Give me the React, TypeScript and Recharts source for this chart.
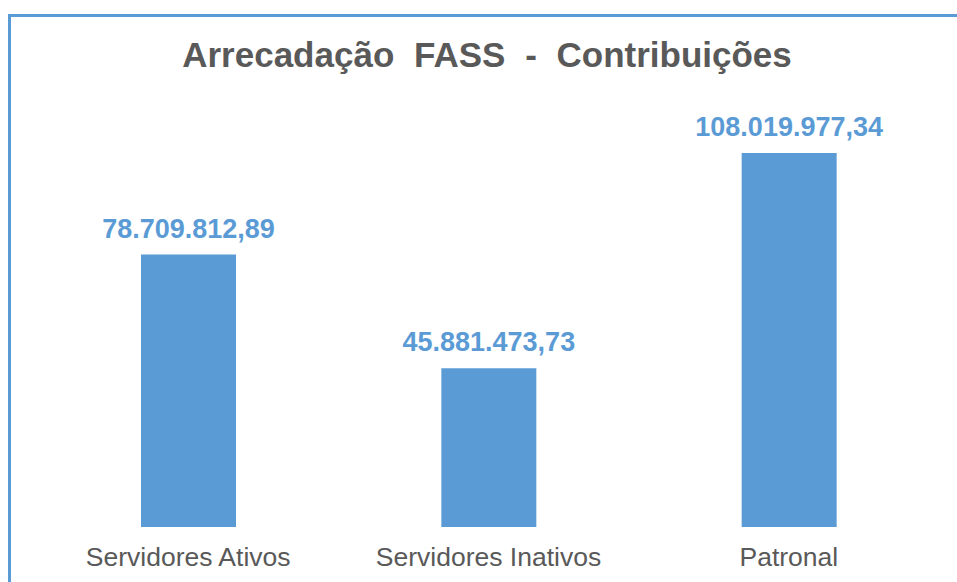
import React from 'react';
import { BarChart, Bar, XAxis, YAxis, LabelList } from 'recharts';

const categories = ['Servidores Ativos', 'Servidores Inativos', 'Patronal'];
const valores = [78709812.89, 45881473.73, 108019977.34];

const data = categories.map((nome, i) => ({ nome, valor: valores[i] }));

const AZUL = '#5B9BD5';
const CINZA = '#595959';
const FONTE = 'Arial, "Liberation Sans", sans-serif';

const formatBR = (v: number) =>
  v.toLocaleString('pt-BR', { minimumFractionDigits: 2, maximumFractionDigits: 2 });

export default function App() {
  return (
    <div
      style={{
        position: 'fixed', top: 0, left: 0, width: 957, height: 582,
        overflow: 'hidden', background: '#fff', fontFamily: FONTE,
      }}
    >
      {/* moldura azul (só topo e esquerda aparecem no recorte) */}
      <div
        style={{
          position: 'absolute', left: 8, top: 14, width: 1200, height: 800,
          borderLeft: `3px solid ${AZUL}`, borderTop: `3px solid ${AZUL}`,
        }}
      />
      <div
        style={{
          position: 'absolute', left: 487, top: 37, transform: 'translateX(-50%)',
          whiteSpace: 'nowrap', fontSize: 35, lineHeight: '35px', fontWeight: 700,
          color: CINZA, wordSpacing: 10,
        }}
      >
        Arrecadação FASS - Contribuições
      </div>
      <div style={{ position: 'absolute', left: 0, top: 0 }}>
        <BarChart
          width={957}
          height={582}
          data={data}
          margin={{ top: 77, right: 18, left: 38, bottom: 0 }}
        >
          <XAxis
            dataKey="nome"
            axisLine={false}
            tickLine={false}
            tickSize={0}
            tickMargin={20}
            height={55}
            interval={0}
            tick={{ fontSize: 26.5, fill: CINZA, fontFamily: FONTE }}
          />
          <YAxis hide domain={[0, 130000000]} />
          <Bar dataKey="valor" fill={AZUL} barSize={95} isAnimationActive={false}>
            <LabelList
              dataKey="valor"
              position="top"
              offset={17}
              formatter={(v: any) => formatBR(Number(v))}
              style={{ fontSize: 27, fontWeight: 700, fill: AZUL, fontFamily: FONTE }}
            />
          </Bar>
        </BarChart>
      </div>
    </div>
  );
}
